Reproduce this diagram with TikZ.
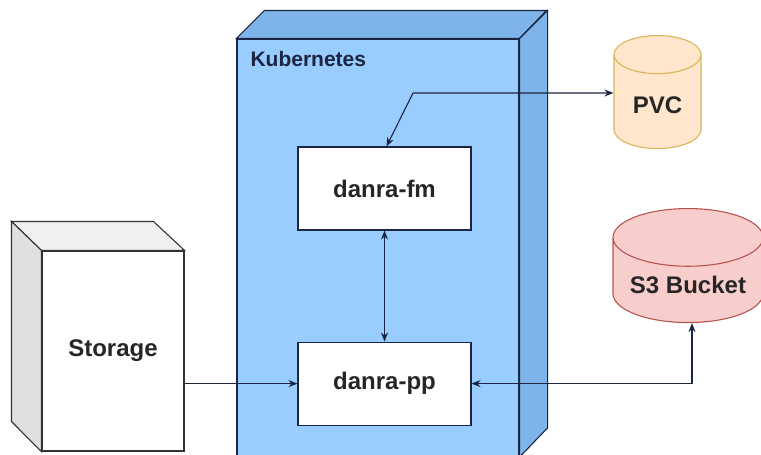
\documentclass[tikz,border=0pt]{standalone}
\usepackage{fontspec}
\setmainfont{Liberation Sans}
\usetikzlibrary{arrows.meta,positioning,shapes.geometric}
\definecolor{kubefront}{RGB}{153,204,255}
\definecolor{kubeside}{RGB}{126,180,234}
\definecolor{navyline}{RGB}{28,37,65}
\definecolor{pvcfill}{RGB}{255,230,204}
\definecolor{pvcline}{RGB}{214,182,86}
\definecolor{s3fill}{RGB}{248,206,204}
\definecolor{s3line}{RGB}{184,84,80}

\begin{document}
\begin{tikzpicture}[
    x=1pt, y=-1pt,
    labelfont/.style={font=\fontsize{24}{28}\selectfont\bfseries},
    podbox/.style={rectangle, draw=navyline, fill=white, minimum width=173pt, minimum height=83pt, labelfont, text=black!85},
    dbnode/.style={cylinder, shape border rotate=90, draw, labelfont, text=black!85, anchor=north},
    link/.style={{Stealth[length=9pt,width=7pt]}-{Stealth[length=9pt,width=7pt]}, navyline},
    line width=1.1pt
    ]
    \useasboundingbox (0,0) rectangle (761,455);
    \clip (0,0) rectangle (761,455);

    %Nodes
    \node[rectangle, draw=navyline, fill=kubefront, minimum width=282pt, minimum height=417.5pt, inner sep=0pt] (kube) at (378,247.75) {};
    \node[podbox] (fm) at (384.5,188.5) {danra-fm};
    \node[podbox] (pp) [below=111pt of fm] {danra-pp};
    \node[rectangle, draw=black!80, fill=white, minimum width=142pt, minimum height=200pt, labelfont, text=black!85] (storage) at (113,351) {Storage};
    \node[dbnode, draw=pvcline, fill=pvcfill, minimum width=87pt, minimum height=113pt, aspect=0.68] (pvc) at (657.5,35) {PVC};
    \node[dbnode, draw=s3line, fill=s3fill, minimum width=150pt, minimum height=114pt, aspect=0.47] (s3) at (688,208) {S3 Bucket};
    \node[anchor=base west, font=\fontsize{21}{24}\selectfont\bfseries, text=navyline, inner sep=0pt] (kubelabel) at (250,66.5) {Kubernetes};

    %Faces
    \draw[navyline, fill=kubeside] (kube.north west) -- ++(28,-28) -- ++(282,0) -- (kube.north east) -- cycle;
    \draw[navyline, fill=kubeside] (kube.north east) -- ++(28,-28) -- ++(0,417.5) -- (kube.south east) -- cycle;
    \draw[black!80, fill=black!6] (storage.north west) -- ++(-30,-29) -- ++(142,0) -- (storage.north east) -- cycle;
    \draw[black!80, fill=black!12] (storage.north west) -- ++(-30,-29) -- ++(0,200) -- (storage.south west) -- cycle;

    %Lines
    \coordinate (pvcbend) at (413,93);
    \draw[link] ([xshift=2pt]fm.north) -- (pvcbend) -- (pvc.west |- pvcbend);
    \draw[link] (fm.south) -- (pp.north);
    \draw[-{Stealth[length=9pt,width=7pt]}, navyline] (storage.east |- pp.west) -- (pp.west);
    \draw[link] (pp.east) -| ([xshift=4pt]s3.south);
\end{tikzpicture}
\end{document}
